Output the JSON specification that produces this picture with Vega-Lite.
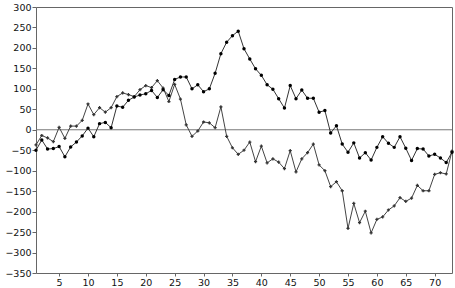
{
  "$schema": "https://vega.github.io/schema/vega-lite/v6.json",
  "width": 416,
  "height": 266,
  "autosize": {"type": "none"},
  "padding": {"left": 36, "top": 7, "right": 3, "bottom": 15},
  "background": "white",
  "config": {
    "view": {"stroke": "#666666", "strokeWidth": 1},
    "axis": {"labelFont": "DejaVu Sans", "labelFontSize": 9.5, "labelColor": "#111111", "grid": false, "domain": false, "tickColor": "#666666", "tickSize": 4}
  },
  "datasets": {
    "a": [
      {"x":1,"v":-50},{"x":2,"v":-25},{"x":3,"v":-47},{"x":4,"v":-46},{"x":5,"v":-41},{"x":6,"v":-66},{"x":7,"v":-42},{"x":8,"v":-30},{"x":9,"v":-15},{"x":10,"v":4},
      {"x":11,"v":-17},{"x":12,"v":15},{"x":13,"v":18},{"x":14,"v":5},{"x":15,"v":58},{"x":16,"v":55},{"x":17,"v":72},{"x":18,"v":80},{"x":19,"v":85},{"x":20,"v":88},
      {"x":21,"v":96},{"x":22,"v":79},{"x":23,"v":98},{"x":24,"v":84},{"x":25,"v":123},{"x":26,"v":129},{"x":27,"v":129},{"x":28,"v":100},{"x":29,"v":110},{"x":30,"v":93},
      {"x":31,"v":100},{"x":32,"v":138},{"x":33,"v":186},{"x":34,"v":214},{"x":35,"v":230},{"x":36,"v":241},{"x":37,"v":198},{"x":38,"v":173},{"x":39,"v":149},{"x":40,"v":133},
      {"x":41,"v":110},{"x":42,"v":99},{"x":43,"v":76},{"x":44,"v":53},{"x":45,"v":108},{"x":46,"v":76},{"x":47,"v":97},{"x":48,"v":77},{"x":49,"v":77},{"x":50,"v":43},
      {"x":51,"v":47},{"x":52,"v":-8},{"x":53,"v":10},{"x":54,"v":-35},{"x":55,"v":-55},{"x":56,"v":-32},{"x":57,"v":-69},{"x":58,"v":-56},{"x":59,"v":-74},{"x":60,"v":-43},
      {"x":61,"v":-17},{"x":62,"v":-33},{"x":63,"v":-43},{"x":64,"v":-17},{"x":65,"v":-45},{"x":66,"v":-75},{"x":67,"v":-46},{"x":68,"v":-47},{"x":69,"v":-64},{"x":70,"v":-60},
      {"x":71,"v":-69},{"x":72,"v":-80},{"x":73,"v":-55}
    ],
    "b": [
      {"x":1,"v":-37},{"x":2,"v":-14},{"x":3,"v":-20},{"x":4,"v":-29},{"x":5,"v":6},{"x":6,"v":-21},{"x":7,"v":9},{"x":8,"v":9},{"x":9,"v":23},{"x":10,"v":63},
      {"x":11,"v":37},{"x":12,"v":54},{"x":13,"v":43},{"x":14,"v":54},{"x":15,"v":81},{"x":16,"v":90},{"x":17,"v":86},{"x":18,"v":81},{"x":19,"v":98},{"x":20,"v":108},
      {"x":21,"v":103},{"x":22,"v":120},{"x":23,"v":102},{"x":24,"v":69},{"x":25,"v":111},{"x":26,"v":75},{"x":27,"v":12},{"x":28,"v":-16},{"x":29,"v":-3},{"x":30,"v":19},
      {"x":31,"v":17},{"x":32,"v":5},{"x":33,"v":56},{"x":34,"v":-16},{"x":35,"v":-44},{"x":36,"v":-60},{"x":37,"v":-50},{"x":38,"v":-30},{"x":39,"v":-78},{"x":40,"v":-40},
      {"x":41,"v":-81},{"x":42,"v":-71},{"x":43,"v":-79},{"x":44,"v":-95},{"x":45,"v":-51},{"x":46,"v":-103},{"x":47,"v":-71},{"x":48,"v":-56},{"x":49,"v":-35},{"x":50,"v":-86},
      {"x":51,"v":-100},{"x":52,"v":-139},{"x":53,"v":-127},{"x":54,"v":-149},{"x":55,"v":-241},{"x":56,"v":-180},{"x":57,"v":-227},{"x":58,"v":-199},{"x":59,"v":-252},{"x":60,"v":-219},
      {"x":61,"v":-213},{"x":62,"v":-196},{"x":63,"v":-186},{"x":64,"v":-166},{"x":65,"v":-175},{"x":66,"v":-167},{"x":67,"v":-136},{"x":68,"v":-149},{"x":69,"v":-149},{"x":70,"v":-109},
      {"x":71,"v":-105},{"x":72,"v":-108},{"x":73,"v":-52}
    ],
    "zero": [{"v": 0}]
  },
  "encoding": {
    "x": {"field": "x", "type": "quantitative", "scale": {"domain": [1, 73], "nice": false, "zero": false},
          "axis": {"title": null, "values": [5,10,15,20,25,30,35,40,45,50,55,60,65,70], "tickSize": 3, "labelPadding": 1}},
    "y": {"field": "v", "type": "quantitative", "scale": {"domain": [-350, 300], "nice": false},
          "axis": {"title": null, "values": [-350,-300,-250,-200,-150,-100,-50,0,50,100,150,200,250,300], "labelPadding": 1}}
  },
  "layer": [
    {"data": {"name": "zero"}, "mark": {"type": "rule", "color": "#777777", "strokeWidth": 1}, "encoding": {"y": {"field": "v", "type": "quantitative"}, "x": null}},
    {"data": {"name": "b"}, "mark": {"type": "line", "color": "#444444", "strokeWidth": 1}},
    {"data": {"name": "b"}, "mark": {"type": "point", "shape": "cross", "filled": true, "color": "#333333", "size": 10, "opacity": 1}},
    {"data": {"name": "a"}, "mark": {"type": "line", "color": "#333333", "strokeWidth": 1}},
    {"data": {"name": "a"}, "mark": {"type": "point", "shape": "circle", "filled": true, "color": "#000000", "size": 12, "opacity": 1}}
  ]
}
